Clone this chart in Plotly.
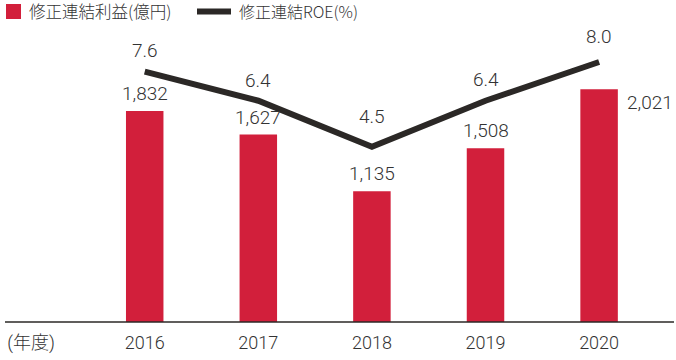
import plotly.graph_objects as go

years = [2016, 2017, 2018, 2019, 2020]
profit = [1832, 1627, 1135, 1508, 2021]        # 修正連結利益(億円)
roe = [7.6, 6.4, 4.5, 6.4, 8.0]                  # 修正連結ROE(%)
tick_vals = [2015, 2016, 2017, 2018, 2019, 2020]
tick_text = ["(年度)", "2016", "2017", "2018", "2019", "2020"]

RED = "#D21F3B"
DARK = "#2B2826"
TXT = "#333333"
FONT = "Roboto, 'Noto Sans CJK JP', sans-serif"
CJK = "'Noto Sans CJK JP', sans-serif"
NUMFONT = dict(family=FONT, size=19, color=TXT, weight=300)

fig = go.Figure()
fig.add_trace(go.Bar(x=years, y=profit, width=0.33, marker_color=RED,
                     marker_line_width=0, showlegend=False, yaxis="y"))
fig.add_trace(go.Scatter(x=years, y=roe, mode="lines", yaxis="y2",
                         line=dict(color=DARK, width=6), showlegend=False,
                         cliponaxis=False))

# bar labels
for i, (x, v) in enumerate(zip(years, profit)):
    txt = f"{v:,}"
    if i == len(years) - 1:
        fig.add_annotation(x=x, y=v, xref="x", yref="y", text=txt, showarrow=False,
                           xanchor="left", yanchor="top", xshift=26, yshift=0,
                           font=NUMFONT)
    else:
        fig.add_annotation(x=x, y=v, xref="x", yref="y", text=txt, showarrow=False,
                           xanchor="center", yanchor="bottom", yshift=4,
                           font=NUMFONT)

# ROE labels
roe_label_shift = [8, 7, 17, 8, 12]
for x, v, s in zip(years, roe, roe_label_shift):
    fig.add_annotation(x=x, y=v, xref="x", yref="y2", text=f"{v:.1f}", showarrow=False,
                       xanchor="center", yanchor="bottom", yshift=s,
                       font=NUMFONT)

W, H = 676, 360
PB = 322  # plot bottom px
def px(x):
    return x / W
def py(y):
    return (PB - y) / PB

# legend (custom)
fig.add_shape(type="rect", xref="paper", yref="paper", x0=px(6), x1=px(21),
              y0=py(19), y1=py(4), fillcolor=RED, line_width=0)
fig.add_annotation(xref="paper", yref="paper", x=px(27), y=py(11), text="修正連結利益(億円)",
                   showarrow=False, xanchor="left", yanchor="middle",
                   font=dict(family=CJK, size=16.5, color=TXT, weight=300))
fig.add_shape(type="line", xref="paper", yref="paper", x0=px(197), x1=px(231),
              y0=py(11.5), y1=py(11.5), line=dict(color=DARK, width=6))
fig.add_annotation(xref="paper", yref="paper", x=px(237), y=py(11), text="修正連結ROE(%)",
                   showarrow=False, xanchor="left", yanchor="middle",
                   font=dict(family=CJK, size=16, color=TXT, weight=300))

# axis line
fig.add_shape(type="line", xref="paper", yref="paper", x0=px(5), x1=px(674),
              y0=0, y1=0, line=dict(color=DARK, width=1.5))

fig.update_layout(
    width=W, height=H,
    margin=dict(l=0, r=0, t=0, b=H - PB),
    plot_bgcolor="white", paper_bgcolor="white",
    showlegend=False,
    xaxis=dict(range=[2014.726, 2020.677], tickvals=tick_vals, ticktext=tick_text,
               showgrid=False, zeroline=False, showline=False, ticks="",
               tickfont=dict(family=FONT, size=18, color=TXT, weight=300),
               ticklabelstandoff=8),
    yaxis=dict(range=[0, 2795], visible=False, showgrid=False, zeroline=False),
    yaxis2=dict(range=[-2.744, 10.562], overlaying="y", visible=False,
                showgrid=False, zeroline=False),
)

fig.write_html("out.html", config={"displayModeBar": False},
               post_script="document.body.style.margin='0';")
